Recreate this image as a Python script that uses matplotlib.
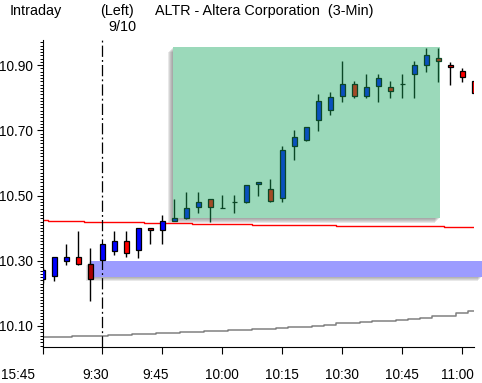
import matplotlib
matplotlib.use("Agg")
import matplotlib.pyplot as plt
import matplotlib.transforms as mtransforms
from matplotlib.patches import Rectangle
from matplotlib.ticker import MultipleLocator, FormatStrFormatter
import numpy as np

plt.rcParams['font.family'] = ['Liberation Sans', 'DejaVu Sans']

# 3-min bars: index 0 = 15:45 (prev day), index 5 = 9:30, 5 bars per 15 min
opens  = [10.244, 10.252, 10.300, 10.311, 10.289, 10.301, 10.331, 10.360, 10.332, 10.400,
          10.393, 10.423, 10.432, 10.464, 10.488, 10.461, 10.479, 10.481, 10.534, 10.519,
          10.491, 10.653, 10.671, 10.732, 10.763, 10.804, 10.841, 10.804, 10.835, 10.832,
          10.841, 10.873, 10.901, 10.921, 10.899, 10.882, 10.850]
highs  = [10.279, 10.311, 10.351, 10.391, 10.339, 10.352, 10.391, 10.391, 10.400, 10.400,
          10.440, 10.489, 10.511, 10.511, 10.488, 10.502, 10.502, 10.531, 10.540, 10.551,
          10.651, 10.701, 10.709, 10.811, 10.819, 10.912, 10.850, 10.872, 10.872, 10.851,
          10.872, 10.912, 10.952, 10.952, 10.911, 10.890, 10.850]
lows   = [10.231, 10.239, 10.287, 10.287, 10.178, 10.301, 10.319, 10.311, 10.309, 10.350,
          10.350, 10.421, 10.429, 10.447, 10.420, 10.461, 10.447, 10.478, 10.499, 10.479,
          10.479, 10.610, 10.667, 10.699, 10.748, 10.788, 10.800, 10.800, 10.788, 10.799,
          10.799, 10.799, 10.880, 10.849, 10.840, 10.849, 10.813]
closes = [10.272, 10.311, 10.311, 10.291, 10.243, 10.350, 10.361, 10.323, 10.400, 10.393,
          10.422, 10.431, 10.461, 10.479, 10.464, 10.461, 10.479, 10.531, 10.540, 10.482,
          10.639, 10.681, 10.709, 10.789, 10.801, 10.841, 10.804, 10.832, 10.859, 10.821,
          10.841, 10.899, 10.930, 10.914, 10.893, 10.862, 10.813]

# step lines
red_line = [10.425, 10.422, 10.422, 10.422, 10.419, 10.419, 10.419, 10.419, 10.419, 10.416,
            10.416, 10.416, 10.416, 10.413, 10.413, 10.413, 10.413, 10.413, 10.410, 10.410,
            10.410, 10.410, 10.410, 10.410, 10.410, 10.407, 10.407, 10.407, 10.407, 10.407,
            10.407, 10.407, 10.407, 10.407, 10.403, 10.403, 10.403]
gray_line = [10.065, 10.065, 10.065, 10.069, 10.069, 10.069, 10.072, 10.072, 10.075, 10.075,
             10.078, 10.078, 10.081, 10.081, 10.085, 10.085, 10.088, 10.088, 10.091, 10.091,
             10.094, 10.098, 10.098, 10.101, 10.104, 10.108, 10.108, 10.111, 10.115, 10.115,
             10.118, 10.122, 10.125, 10.130, 10.130, 10.139, 10.146]

# highlighted zones
green_zone = (10.87, 33.14, 10.430, 10.956)   # x0, x1 (bar index), low, high
band_start = 3.95
band_low, band_high = 10.250, 10.299

xtick_pos = [0, 5, 10, 15, 20, 25, 30, 35]
xtick_labels = ['15:45', '9:30', '9:45', '10:00', '10:15', '10:30', '10:45', '11:00']
xlabel_nudge = [-24, -7, -7, -1, 0, 0, 0, -5]   # px
ytick_vals = [10.10, 10.30, 10.50, 10.70, 10.90]

FS = 9.8

fig = plt.figure(figsize=(4.82, 3.83), dpi=100)
fig.patch.set_facecolor('white')
W, H = 482, 383
ax_l, ax_r, ax_t, ax_b = 42.5, 474.3, 40, 346.5
ax = fig.add_axes([ax_l / W, 1 - ax_b / H, (ax_r - ax_l) / W, (ax_b - ax_t) / H])
ax.set_xlim(0, 36)
ax.set_ylim(10.037, 10.977)

for s in ['top', 'right']:
    ax.spines[s].set_visible(False)
for s in ['left', 'bottom']:
    ax.spines[s].set_linewidth(0.8)
    ax.spines[s].set_color('black')


def shadowed_box(x0, x1, y0, y1, face, z, depth=5, clip=True):
    for k in range(depth, 0, -1):
        off = mtransforms.offset_copy(ax.transData, fig=fig, x=-k, y=-k, units='dots')
        ax.add_patch(Rectangle((x0, y0), x1 - x0, y1 - y0, transform=off,
                               facecolor='#606060', edgecolor='none', alpha=0.14,
                               zorder=z, clip_on=clip))
    ax.add_patch(Rectangle((x0, y0), x1 - x0, y1 - y0, facecolor=face,
                           edgecolor='none', zorder=z + 0.1, clip_on=clip))


gx0, gx1, gy0, gy1 = green_zone
shadowed_box(gx0, gx1, gy0, gy1, '#9BD9BA', 1)

x_edge = ax.transData.inverted().transform((fig.bbox.width, 0))[0]
shadowed_box(band_start, x_edge, band_low, band_high, '#9C9CFF', 1, depth=4, clip=False)

idx = np.arange(len(opens))
ax.plot(idx, red_line, drawstyle='steps-mid', color='#FF0000', lw=1.0, zorder=2)
ax.plot(idx, gray_line, drawstyle='steps-mid', color='#808080', lw=1.1, zorder=2)

# vertical session divider at 9:30
ax.axvline(5, color='black', lw=0.9, linestyle=(0, (9, 2.5, 1.5, 2.5)), zorder=2.5)

# candles
o = np.array(opens); c = np.array(closes)
up = c >= o
inside = (idx >= gx0) & (idx <= gx1)
in_band = (idx >= band_start) & (np.minimum(o, c) < band_high) & (np.maximum(o, c) > band_low)
face = []
edge = []
for i in idx:
    if inside[i]:
        face.append('#0A50BE' if up[i] else '#A34A26')
        edge.append('#0B4726')
    else:
        if up[i]:
            face.append('#0000FF')
        else:
            face.append('#A80000' if in_band[i] else '#FF0000')
        edge.append('black')

ax.vlines(idx, lows, highs, colors=edge, lw=1.0, zorder=3)
ax.bar(idx, np.abs(c - o), bottom=np.minimum(o, c), width=0.4,
       color=face, edgecolor=edge, linewidth=0.9, zorder=4)

# ticks
ax.set_yticks(ytick_vals)
ax.yaxis.set_major_formatter(FormatStrFormatter('%.2f'))
ax.yaxis.set_minor_locator(MultipleLocator(0.01))
ax.tick_params(axis='y', which='major', length=4.5, width=0.8, pad=2.5, labelsize=FS)
ax.tick_params(axis='y', which='minor', length=2.2, width=0.7)
ax.set_xticks(xtick_pos)
ax.tick_params(axis='x', which='major', length=5, width=0.8, labelbottom=False)

for pos, lbl, dx in zip(xtick_pos, xtick_labels, xlabel_nudge):
    tr = ax.get_xaxis_transform() + mtransforms.ScaledTranslation(dx / 100, -28.5 / 100, fig.dpi_scale_trans)
    ax.text(pos, 0, lbl, transform=tr, ha='center', va='center', fontsize=FS, clip_on=False)

# header
fig.text(10 / W, 1 - 11 / H, 'Intraday', ha='left', va='center', fontsize=FS + 0.6)
fig.text(100 / W, 1 - 11 / H, '(Left)', ha='left', va='center', fontsize=FS + 0.6)
fig.text(136 / W, 1 - 27 / H, '9/10', ha='right', va='center', fontsize=FS + 0.6)
fig.text(155 / W, 1 - 11 / H, 'ALTR - Altera Corporation  (3-Min)', ha='left', va='center', fontsize=FS + 0.6)

fig.savefig('out.png', dpi=100, facecolor='white')
